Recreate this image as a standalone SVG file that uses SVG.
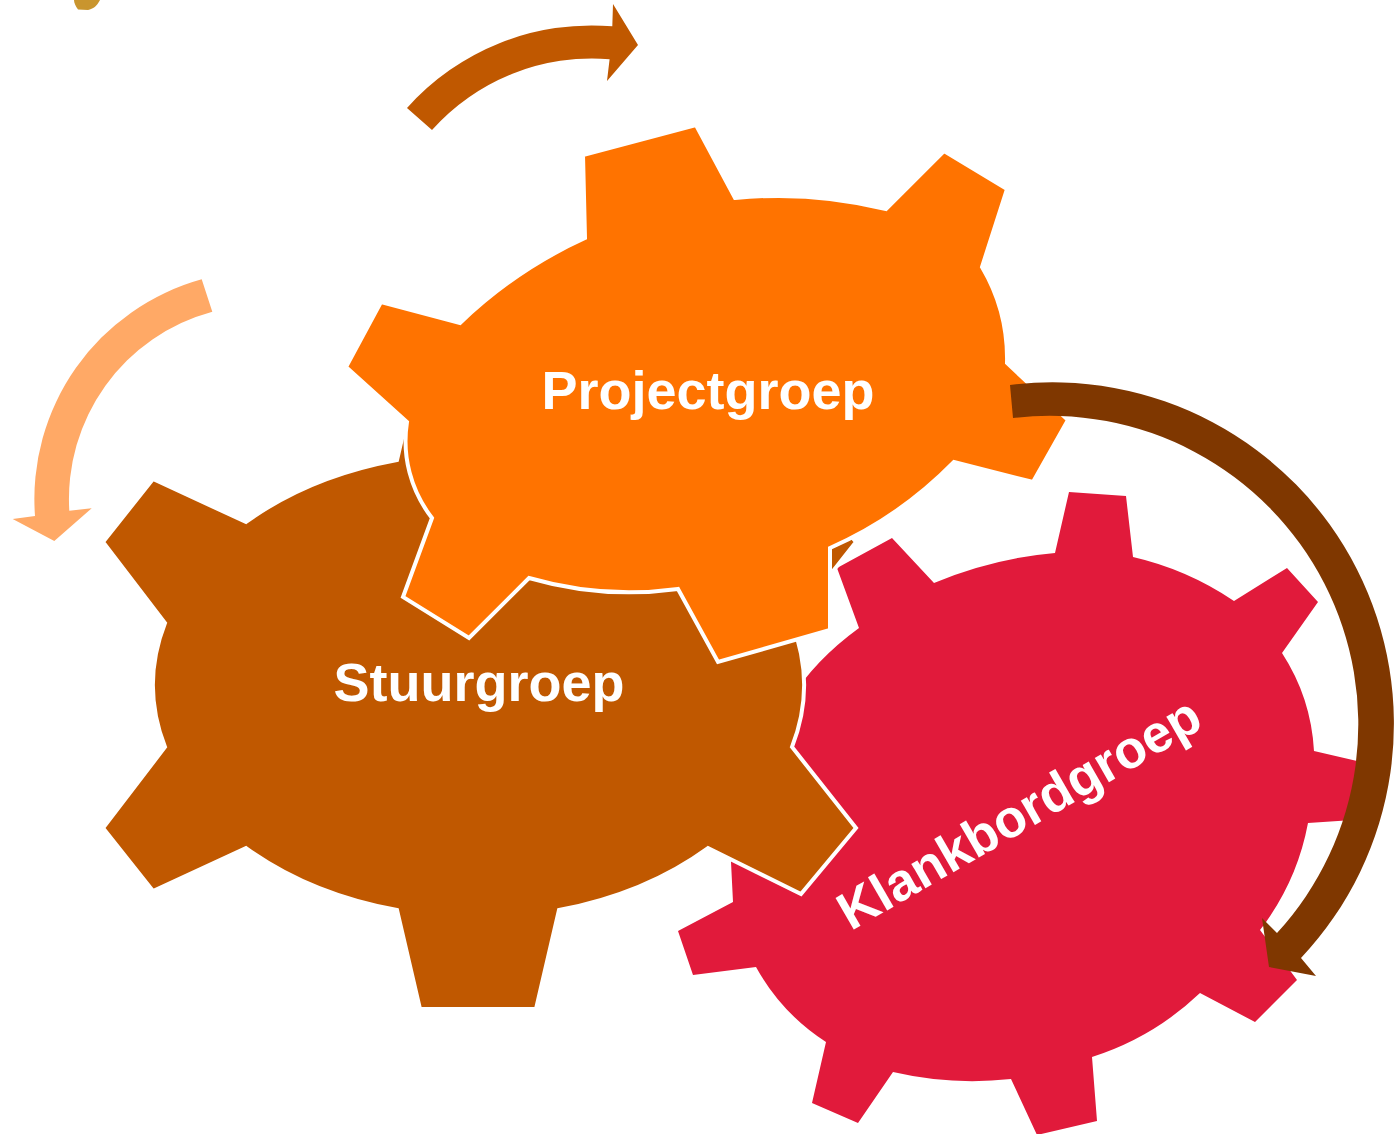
<svg xmlns="http://www.w3.org/2000/svg" width="1399" height="1134" viewBox="0 0 1399 1134">
  <style>
    .gear { stroke: #FFFFFF; stroke-width: 4; stroke-linejoin: miter; }
    .red { fill: #E11A3B; stroke: none; }
    .brown { fill: #C05800; }
    .orange { fill: #FF7300; }
    .label { font-family: "Liberation Sans", Arial, sans-serif; font-weight: bold; font-size: 54px; fill: #FFFFFF; text-anchor: middle; }
  </style>
  <rect width="1399" height="1134" fill="#FFFFFF"/>

  <g id="gear-klankbordgroep">
    <path class="red" d="M1055,553 L1069,492 L1126,496 L1133,557 A300,300 0 0 1 1234,601 L1287,568 L1318,602 L1282,653 A200,200 0 0 1 1314,751 L1370,764 L1368,819 L1308,823 A250,250 0 0 1 1260,930 L1297,980 L1255,1022 L1200,993 A280,280 0 0 1 1092,1057 L1097,1121 L1037,1135 L1011,1079 A350,350 0 0 1 893,1072 L858,1123 L812,1103 L826,1042 A210,210 0 0 1 756,967 L693,975 L678,931 L733,902 L731,862 L745,800 L790,700 Q815,660 859,628 L837,568 L892,538 L934,583 A400,400 0 0 1 1055,553 Z"/>
    <text class="label" style="font-size:53px" transform="translate(1028,829) rotate(-30)" x="0" y="0">Klankbordgroep</text>
  </g>

  <g id="gear-stuurgroep">
    <path class="gear brown" d="M397,460 L420,361 L536,361 L559,460 A325,231 0 0 1 708,522 L801,476 L856,542 L792,623 A325,231 0 0 1 792,747 L856,828 L801,894 L708,848 A325,231 0 0 1 559,910 L536,1009 L420,1009 L397,910 A325,231 0 0 1 246,848 L153,891 L103,828 L165,747 A325,231 0 0 1 165,623 L103,542 L153,479 L246,522 A325,231 0 0 1 397,460 Z"/>
    <text class="label" x="479" y="701">Stuurgroep</text>
  </g>

  <g id="gear-projectgroep">
    <path class="gear orange" d="M585,238 L583,155 L696,125 L735,198 A450,450 0 0 1 886,209 L944,151 L1007,189 L982,267 A180,180 0 0 1 1007,363 L1068,420 L1033,482 L954,462 A400,400 0 0 1 830,548 L830,630 L718,662 L678,589 A360,360 0 0 1 529,578 L469,638 L403,597 L432,518 A125,125 0 0 1 407,422 L346,367 L381,302 L460,323 A450,450 0 0 1 585,238 Z"/>
    <text class="label" x="708" y="409">Projectgroep</text>
  </g>

  <g id="connectors">
    <path id="arrow-top" fill="#C05800" d="M407,108 A247.5,247.5 0 0 1 612.3,26.3 L613,4 L638,45 L607,81 L609.6,59.2 A214.5,214.5 0 0 0 432,130 Z"/>
    <path id="arrow-left" fill="#FFA966" d="M201.7,279.3 A228,228 0 0 0 35,516 L12.7,519 L54.3,541 L91.7,508.3 L69.3,510.7 A194,194 0 0 1 212.3,311.7 Z"/>
    <path id="arrow-right" fill="#7F3700" d="M1010,385 A341.5,341.5 0 0 1 1301,958 L1316,976 L1269,967 L1262,918 L1277,933 A308.5,308.5 0 0 0 1013,418 Z"/>
    <path id="arrow-cut" fill="#C9952E" d="M74,0 L100,0 C97,6 93,9 88,10 L78,9.5 C75.5,6 74,3 74,0 Z"/>
  </g>
</svg>
